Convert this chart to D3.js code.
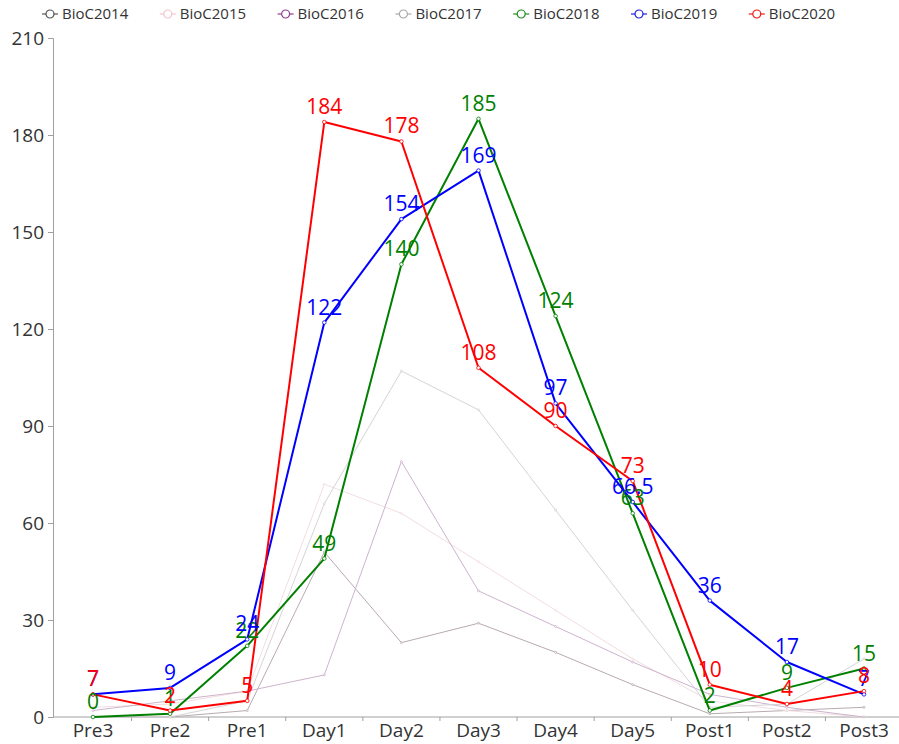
<!DOCTYPE html>
<html>
<head>
<meta charset="utf-8">
<script src="https://cdn.jsdelivr.net/npm/d3@7"></script>
<style>
  html, body { margin: 0; padding: 0; background: #fff; }
  svg { display: block; font-family: "Open Sans", "Noto Sans", sans-serif; }
</style>
</head>
<body>
<svg id="chart" width="899" height="744"></svg>
<script>
const categories = ['Pre3', 'Pre2', 'Pre1', 'Day1', 'Day2', 'Day3', 'Day4', 'Day5', 'Post1', 'Post2', 'Post3'];
const seriesNames = ['BioC2014', 'BioC2015', 'BioC2016', 'BioC2017', 'BioC2018', 'BioC2019', 'BioC2020'];

const bioc2014 = [0, 0, 2, 51, 23, 29, 20, 10, 1, 2, 3];
const bioc2015 = [3, 4, 8, 72, 63, 48, 33, 18, 5, 2, 0];
const bioc2016 = [2, 5, 8, 13, 79, 39, 28, 17, 7, 3, 0];
const bioc2017 = [0, 0, 5, 66, 107, 95, 64, 33, 3, 4, 18];
const bioc2018 = [0, 1, 22, 49, 140, 185, 124, 63, 2, 9, 15];
const bioc2019 = [7, 9, 24, 122, 154, 169, 97, 66.5, 36, 17, 7];
const bioc2020 = [7, 2, 5, 184, 178, 108, 90, 73, 10, 4, 8];

const yTicks = [0, 30, 60, 90, 120, 150, 180, 210];

// legend colour / line colour / is it a highlighted series
const legendColors = ['#555555', '#f2c4cc', '#8e3f8e', '#a8a8a8', '#1e8c1e', '#2020e0', '#f01818'];
const lineColors   = ['#b9aab2', '#f1dde1', '#cdb4cd', '#d6d3d5', '#008000', '#0000ff', '#ff0000'];
const lineWidths   = [1, 1, 1, 1, 2, 2, 2];
const labelled     = [false, false, false, false, true, true, true];

const seriesValues = [bioc2014, bioc2015, bioc2016, bioc2017, bioc2018, bioc2019, bioc2020];
const series = seriesNames.map((name, i) => ({
  name,
  values: seriesValues[i],
  legend: legendColors[i],
  color: lineColors[i],
  width: lineWidths[i],
  labelled: labelled[i]
}));

const svg = d3.select('#chart');

/* ── Scales ── */
const x = d3.scalePoint().domain(categories).range([93, 864]);
const step = x.step();
const y = d3.scaleLinear().domain([0, 210]).range([717, 38]);
const x0 = 53;
const xEnd = 899;

/* ── Axes ── */
const axisColor = '#a0a0a0';
const tickText = '#333';

const yAxis = svg.append('g').attr('transform', `translate(${x0},0)`)
  .call(d3.axisLeft(y).tickValues(yTicks).tickSize(5).tickPadding(4).tickFormat(d3.format('d')));
yAxis.select('.domain').attr('stroke', axisColor);
yAxis.selectAll('line').attr('stroke', axisColor);
yAxis.selectAll('text').attr('fill', tickText).attr('font-size', 19).attr('font-family', '"Open Sans", sans-serif');

const xAxis = svg.append('g').attr('transform', `translate(0,${y(0)})`);
xAxis.append('line')
  .attr('x1', x0).attr('x2', xEnd)
  .attr('stroke', axisColor);
xAxis.selectAll('.tick-b')
  .data(categories.slice(1))
  .join('line')
  .attr('x1', (d) => x(d) - step / 2)
  .attr('x2', (d) => x(d) - step / 2)
  .attr('y1', 0).attr('y2', 4)
  .attr('stroke', axisColor);
xAxis.selectAll('text')
  .data(categories)
  .join('text')
  .attr('x', (d) => x(d))
  .attr('y', 20)
  .attr('text-anchor', 'middle')
  .attr('fill', tickText)
  .attr('font-size', 19)
  .text((d) => d);

/* ── Lines ── */
const line = d3.line()
  .x((d, i) => x(categories[i]))
  .y((d) => y(d));

const plot = svg.append('g');
series.forEach((s) => {
  plot.append('path')
    .datum(s.values)
    .attr('fill', 'none')
    .attr('stroke', s.color)
    .attr('stroke-width', s.width)
    .attr('stroke-linejoin', 'round')
    .attr('d', line);
  plot.selectAll(null)
    .data(s.values)
    .join('circle')
    .attr('cx', (d, i) => x(categories[i]))
    .attr('cy', (d) => y(d))
    .attr('r', s.labelled ? 1.8 : 1)
    .attr('fill', '#fff')
    .attr('stroke', s.color)
    .attr('stroke-width', 0.8);
});

/* ── Value labels ── */
series.filter((s) => s.labelled).forEach((s) => {
  plot.selectAll(null)
    .data(s.values)
    .join('text')
    .attr('x', (d, i) => x(categories[i]))
    .attr('y', (d) => y(d) - 8)
    .attr('text-anchor', 'middle')
    .attr('fill', s.color)
    .attr('font-size', 21)
    .text((d) => d);
});

/* ── Legend ── */
const legend = svg.append('g').attr('transform', 'translate(42,14)');
const item = legend.selectAll('g')
  .data(series)
  .join('g')
  .attr('transform', (d, i) => `translate(${i * 117.8},0)`);
item.append('line')
  .attr('x1', 0).attr('x2', 16)
  .attr('stroke', (d) => d.legend)
  .attr('stroke-width', 1.2);
item.append('circle')
  .attr('cx', 8).attr('r', 4)
  .attr('fill', '#fff')
  .attr('stroke', (d) => d.legend)
  .attr('stroke-width', 1.2);
item.append('text')
  .attr('x', 20)
  .attr('dy', '0.35em')
  .attr('fill', '#333')
  .attr('font-size', 15)
  .text((d) => d.name);
</script>
</body>
</html>
